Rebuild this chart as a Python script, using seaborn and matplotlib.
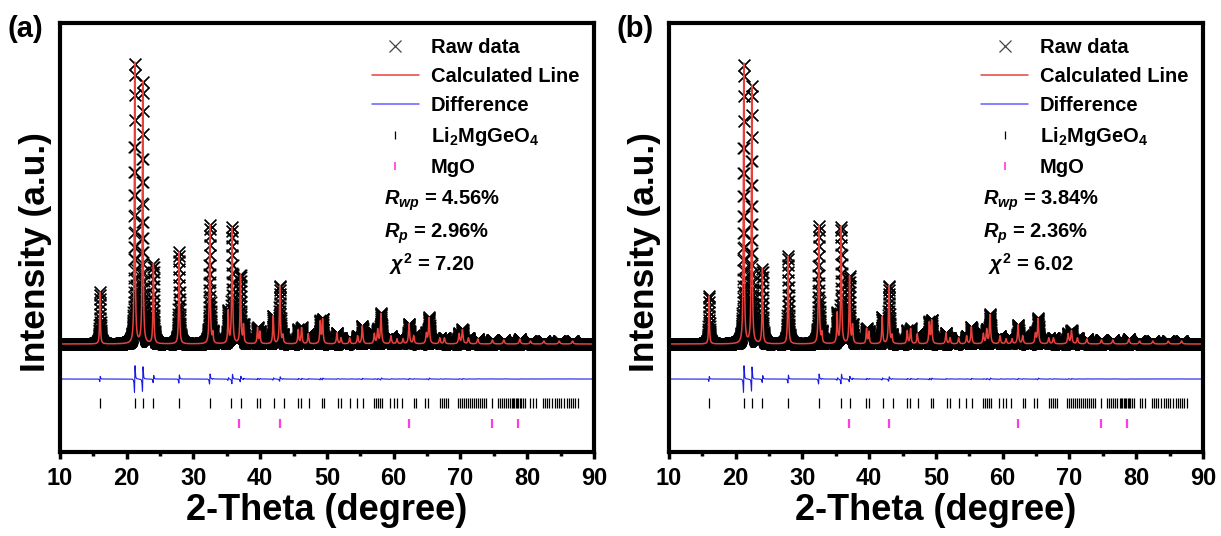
import numpy as np
import pandas as pd
import matplotlib
matplotlib.use('Agg')
import matplotlib.pyplot as plt
import seaborn as sns
from matplotlib.lines import Line2D
from matplotlib.ticker import MultipleLocator

# Reflection positions (2-theta) and peak heights above background
peak_pos = [16.0, 21.2, 22.4, 24.0, 27.85, 32.45, 32.9, 35.2, 35.8, 37.05, 37.5,
            39.6, 39.95, 41.95, 42.95, 43.4, 45.7, 46.2, 47.2, 49.0, 49.35, 51.5,
            52.1, 53.4, 54.6, 55.3, 57.1, 57.6, 58.1, 59.6, 60.5, 61.4, 62.3, 63.0,
            64.9, 65.3, 66.9, 67.6, 69.8, 70.3, 71.2, 72.6, 74.8, 76.5, 78.9, 80.5,
            82.5, 84.8, 86.8]
height_a = [52, 281, 262, 80, 92, 119, 10, 32, 116, 68, 18,
            16, 12, 28, 58, 8, 14, 16, 10, 22, 24, 11,
            6, 6, 8, 18, 10, 14, 30, 8, 5, 5, 20, 8,
            10, 26, 6, 6, 10, 14, 6, 5, 4, 4, 5, 3,
            3, 3, 3]
height_b = [48, 280, 258, 75, 88, 118, 10, 30, 117, 67, 18,
            15, 12, 27, 58, 8, 13, 15, 10, 21, 23, 11,
            6, 6, 8, 17, 10, 14, 29, 8, 5, 5, 19, 8,
            10, 25, 6, 6, 10, 13, 6, 5, 4, 4, 5, 3,
            3, 3, 3]
background_level = 108
diff_offset = 73
obs_shift = 0.005  # small offset between observed and fitted peak positions

# Bragg reflection markers
li_ticks = [16.0, 21.2, 22.4, 24.0, 27.9, 32.5, 35.7, 37.1, 39.5, 40.0, 42.1, 43.5,
            45.7, 46.1, 47.3, 49.2, 49.6, 51.6, 52.1, 53.4, 54.5, 55.4, 57.0, 57.3,
            57.6, 57.9, 58.2, 59.5, 60.0, 60.5, 61.3, 63.0, 63.4, 64.7, 65.2, 66.9,
            67.2, 67.5, 67.8, 68.1, 69.7, 70.0, 70.3, 70.6, 70.9, 71.2, 71.5, 71.8,
            72.1, 72.4, 72.7, 73.0, 73.3, 73.6, 73.9, 74.7, 75.7, 76.0, 76.3, 76.6,
            76.9, 77.2, 77.5, 77.7, 77.9, 78.1, 78.3, 78.5, 78.7, 78.9, 79.1, 79.4,
            79.7, 80.5, 80.9, 81.3, 82.3, 82.6, 83.0, 83.3, 83.7, 84.1, 84.5, 84.8,
            85.1, 85.5, 86.0, 86.3, 86.6, 86.9, 87.2, 87.6]
mgo_ticks = [36.9, 42.9, 62.3, 74.7, 78.6]

panels = ['(a)', '(b)']
rwp = ['4.56%', '3.84%']
rp = ['2.96%', '2.36%']
chi2 = ['7.20', '6.02']

sns.set_theme(style='white')
plt.rcParams['font.family'] = ['Liberation Sans', 'DejaVu Sans']
plt.rcParams['font.weight'] = 'bold'
plt.rcParams['axes.labelweight'] = 'bold'
plt.rcParams['text.color'] = 'black'
plt.rcParams['axes.labelcolor'] = 'black'
plt.rcParams['xtick.color'] = 'black'
plt.rcParams['mathtext.fontset'] = 'custom'
plt.rcParams['mathtext.rm'] = 'Liberation Sans:bold'
plt.rcParams['mathtext.bf'] = 'Liberation Sans:bold'
plt.rcParams['mathtext.it'] = 'Liberation Sans:italic:bold'


def profile(x, heights, shift=0.0):
    y = np.full_like(x, background_level, dtype=float)
    for p, h in zip(peak_pos, heights):
        w = 0.12 + 0.0015 * (p - 10)
        y += h / (1 + (2 * (x - p - shift) / w) ** 2)
    return y


x = np.arange(10, 90.001, 0.01)
fig = plt.figure(figsize=(12.21, 5.36), dpi=100)
axes = [fig.add_axes([0.0491, 0.1567, 0.4373, 0.8004]),
        fig.add_axes([0.5479, 0.1567, 0.4373, 0.8004])]
stat_x = [0.607, 0.588]

for i, (ax, heights) in enumerate(zip(axes, [height_a, height_b])):
    calc = profile(x, heights)
    raw = profile(x, heights, shift=obs_shift)
    df = pd.DataFrame({'two_theta': x, 'raw': raw, 'calc': calc,
                       'diff': raw - calc + diff_offset})

    sns.scatterplot(data=df, x='two_theta', y='raw', marker='x', s=70,
                    color='black', linewidth=1.0, ax=ax, legend=False)
    sns.lineplot(data=df, x='two_theta', y='calc', color='#e8413c', lw=1.1,
                 estimator=None, sort=False, ax=ax)
    sns.lineplot(data=df, x='two_theta', y='diff', color='#1a1ae6', lw=0.8,
                 estimator=None, sort=False, ax=ax)
    ax.vlines(li_ticks, 44, 54, color='black', lw=0.9)
    ax.vlines(mgo_ticks, 24, 33, color='#ff3ce0', lw=1.6)

    ax.set_xlim(10, 90)
    ax.set_ylim(0, 429)
    ax.xaxis.set_major_locator(MultipleLocator(10))
    ax.xaxis.set_minor_locator(MultipleLocator(5))
    ax.set_yticks([])
    ax.tick_params(axis='x', which='major', bottom=True, direction='out',
                   length=5, width=2.5, labelsize=17, pad=6)
    ax.tick_params(axis='x', which='minor', bottom=True, direction='out',
                   length=3, width=2.5)
    for sp in ax.spines.values():
        sp.set_linewidth(3)
        sp.set_color('black')
    ax.set_xlabel('2-Theta (degree)', fontsize=26, labelpad=2)
    ax.set_ylabel('Intensity (a.u.)', fontsize=25.5)
    ax.yaxis.set_label_coords(-0.015, 0.465)

    handles = [Line2D([], [], ls='none', marker='x', color='#444444', markersize=9,
                      markeredgewidth=0.9),
               Line2D([], [], color='#e8413c', lw=1.1),
               Line2D([], [], color='#6060ff', lw=1.1),
               Line2D([], [], ls='none', marker='|', color='black', markersize=6,
                      markeredgewidth=0.9),
               Line2D([], [], ls='none', marker='|', color='#ff3ce0', markersize=6,
                      markeredgewidth=1.2)]
    labels = ['Raw data', 'Calculated Line', 'Difference',
              r'Li$_{\mathrm{2}}$MgGeO$_{\mathrm{4}}$', 'MgO']
    ax.legend(handles, labels, loc='upper left', bbox_to_anchor=(0.585, 0.966),
              frameon=False, fontsize=14.5, handlelength=2.3, handletextpad=0.6,
              labelspacing=0.5, borderpad=0, borderaxespad=0)

    ax.text(stat_x[i], 0.585, r'$R_{wp}$ = ' + rwp[i], transform=ax.transAxes,
            fontsize=14.5, va='center', ha='left')
    ax.text(stat_x[i], 0.508, r'$R_{p}$ = ' + rp[i], transform=ax.transAxes,
            fontsize=14.5, va='center', ha='left')
    ax.text(stat_x[i] + 0.01, 0.439, r'$\chi^{\mathrm{2}}$ = ' + chi2[i],
            transform=ax.transAxes, fontsize=14.5, va='center', ha='left')

fig.text(0.006, 0.972, panels[0], fontsize=21, va='top', ha='left')
fig.text(0.505, 0.972, panels[1], fontsize=21, va='top', ha='left')

fig.savefig('out.png', dpi=100)
